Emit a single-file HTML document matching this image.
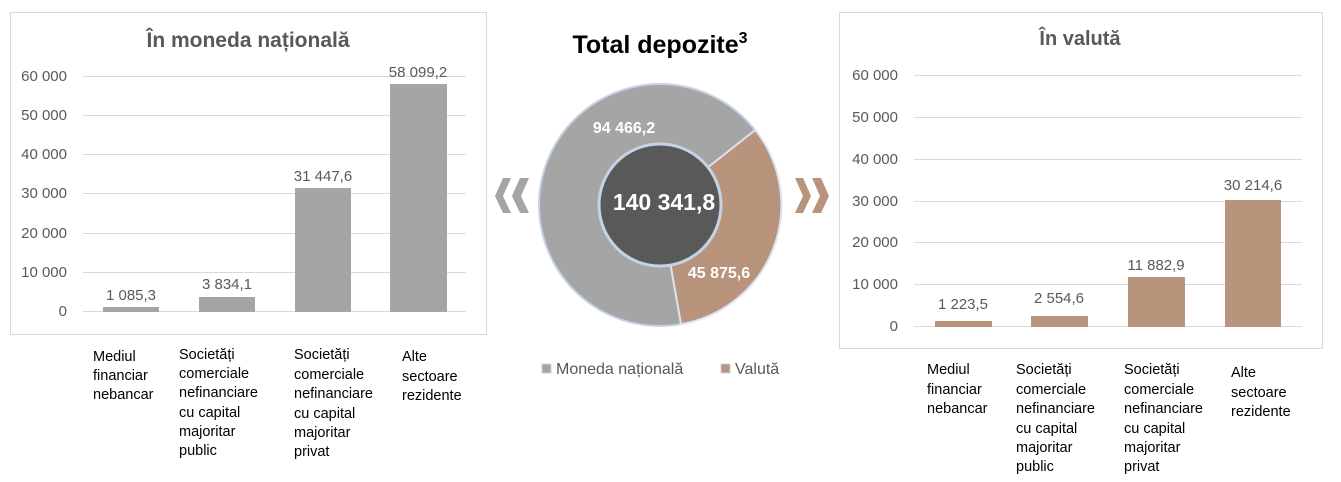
<!DOCTYPE html>
<html><head><meta charset="utf-8"><style>
body{margin:0;background:#fff;width:1341px;height:482px;overflow:hidden}
svg{display:block;font-family:"Liberation Sans",sans-serif}
.t{font-size:15px;fill:#595959}
.c{font-size:14.5px;fill:#000}
.g{stroke:#d9d9d9;stroke-width:1}
</style></head><body>
<svg width="1341" height="482" viewBox="0 0 1341 482">
<!-- Left chart -->
<rect x="10.5" y="12.5" width="476" height="322" fill="#fff" stroke="#d9d9d9"/>
<text x="248" y="47" text-anchor="middle" font-size="21" font-weight="bold" fill="#595959">În moneda națională</text>
<g class="g">
<line x1="83" x2="466" y1="76.5" y2="76.5"/><line x1="83" x2="466" y1="115.5" y2="115.5"/>
<line x1="83" x2="466" y1="154.5" y2="154.5"/><line x1="83" x2="466" y1="193.5" y2="193.5"/>
<line x1="83" x2="466" y1="233.5" y2="233.5"/><line x1="83" x2="466" y1="272.5" y2="272.5"/>
<line x1="83" x2="466" y1="311.5" y2="311.5"/>
</g>
<g class="t" text-anchor="end">
<text x="67" y="81">60 000</text><text x="67" y="120">50 000</text><text x="67" y="159">40 000</text>
<text x="67" y="198">30 000</text><text x="67" y="238">20 000</text><text x="67" y="277">10 000</text><text x="67" y="316">0</text>
</g>
<g fill="#a5a5a5">
<rect x="103" y="307" width="56" height="5"/><rect x="199" y="297" width="56" height="15"/>
<rect x="295" y="188" width="56" height="124"/><rect x="390" y="84" width="57" height="228"/>
</g>
<g class="t" text-anchor="middle" font-size="16">
<text x="131" y="300">1 085,3</text><text x="227" y="289">3 834,1</text>
<text x="323" y="181">31 447,6</text><text x="418" y="77">58 099,2</text>
</g>
<g class="c">
<text x="93" y="361">Mediul</text><text x="93" y="380">financiar</text><text x="93" y="399">nebancar</text>
<text x="179" y="359">Societăți</text><text x="179" y="378">comerciale</text><text x="179" y="397">nefinanciare</text><text x="179" y="417">cu capital</text><text x="179" y="436">majoritar</text><text x="179" y="455">public</text>
<text x="294" y="359">Societăți</text><text x="294" y="379">comerciale</text><text x="294" y="398">nefinanciare</text><text x="294" y="418">cu capital</text><text x="294" y="437">majoritar</text><text x="294" y="456">privat</text>
<text x="402" y="361">Alte</text><text x="402" y="381">sectoare</text><text x="402" y="400">rezidente</text>
</g>

<!-- Donut -->
<text x="660" y="53" text-anchor="middle" font-size="25" font-weight="bold" fill="#000">Total depozite<tspan font-size="16" dy="-10">3</tspan></text>
<circle cx="660" cy="205" r="121" fill="#a5a5a5" stroke="#c5d3e6" stroke-width="2"/>
<path d="M660 205 L755.3 130.0 A121 121 0 0 1 681.0 324.2 Z" fill="#b8947c" stroke="#dbe4f0" stroke-width="2"/>
<circle cx="660" cy="205" r="61" fill="#595959" stroke="#c5d3e6" stroke-width="3"/>
<text x="664" y="210" text-anchor="middle" font-size="23" font-weight="bold" fill="#fff">140 341,8</text>
<text x="624" y="133" text-anchor="middle" font-size="16" font-weight="bold" fill="#fff">94 466,2</text>
<text x="719" y="278" text-anchor="middle" font-size="16" font-weight="bold" fill="#fff">45 875,6</text>
<g fill="#a5a5a5">
<polygon points="511,178 503,178 495,196 503,213 511,213 503,196"/>
<polygon points="529,178 520,178 512,196 520,213 529,213 521,196"/>
</g>
<g fill="#b8947c">
<polygon points="795,178 803,178 811,196 803,213 795,213 803,196"/>
<polygon points="812,178 821,178 829,196 821,213 812,213 820,196"/>
</g>
<rect x="542" y="364" width="9" height="9" fill="#a5a5a5" stroke="#c5d3e6"/>
<text x="556" y="374" font-size="16" fill="#595959">Moneda națională</text>
<rect x="721" y="364" width="9" height="9" fill="#b8947c" stroke="#c5d3e6"/>
<text x="735" y="374" font-size="16" fill="#595959">Valută</text>

<!-- Right chart -->
<rect x="839.5" y="12.5" width="483" height="336" fill="#fff" stroke="#d9d9d9"/>
<text x="1080" y="45" text-anchor="middle" font-size="20" font-weight="bold" fill="#595959">În valută</text>
<g class="g">
<line x1="914" x2="1302" y1="75.5" y2="75.5"/><line x1="914" x2="1302" y1="117.5" y2="117.5"/>
<line x1="914" x2="1302" y1="159.5" y2="159.5"/><line x1="914" x2="1302" y1="201.5" y2="201.5"/>
<line x1="914" x2="1302" y1="242.5" y2="242.5"/><line x1="914" x2="1302" y1="284.5" y2="284.5"/>
<line x1="914" x2="1302" y1="326.5" y2="326.5"/>
</g>
<g class="t" text-anchor="end">
<text x="898" y="80">60 000</text><text x="898" y="122">50 000</text><text x="898" y="164">40 000</text>
<text x="898" y="206">30 000</text><text x="898" y="247">20 000</text><text x="898" y="289">10 000</text><text x="898" y="331">0</text>
</g>
<g fill="#b8947c">
<rect x="935" y="321" width="57" height="6"/><rect x="1031" y="316" width="57" height="11"/>
<rect x="1128" y="277" width="57" height="50"/><rect x="1225" y="200" width="56" height="127"/>
</g>
<g class="t" text-anchor="middle" font-size="16">
<text x="963" y="309">1 223,5</text><text x="1059" y="303">2 554,6</text>
<text x="1156" y="270">11 882,9</text><text x="1253" y="190">30 214,6</text>
</g>
<g class="c">
<text x="927" y="374">Mediul</text><text x="927" y="394">financiar</text><text x="927" y="413">nebancar</text>
<text x="1016" y="374">Societăți</text><text x="1016" y="394">comerciale</text><text x="1016" y="413">nefinanciare</text><text x="1016" y="433">cu capital</text><text x="1016" y="452">majoritar</text><text x="1016" y="471">public</text>
<text x="1124" y="374">Societăți</text><text x="1124" y="394">comerciale</text><text x="1124" y="413">nefinanciare</text><text x="1124" y="433">cu capital</text><text x="1124" y="452">majoritar</text><text x="1124" y="471">privat</text>
<text x="1231" y="377">Alte</text><text x="1231" y="397">sectoare</text><text x="1231" y="416">rezidente</text>
</g>
</svg>
</body></html>
